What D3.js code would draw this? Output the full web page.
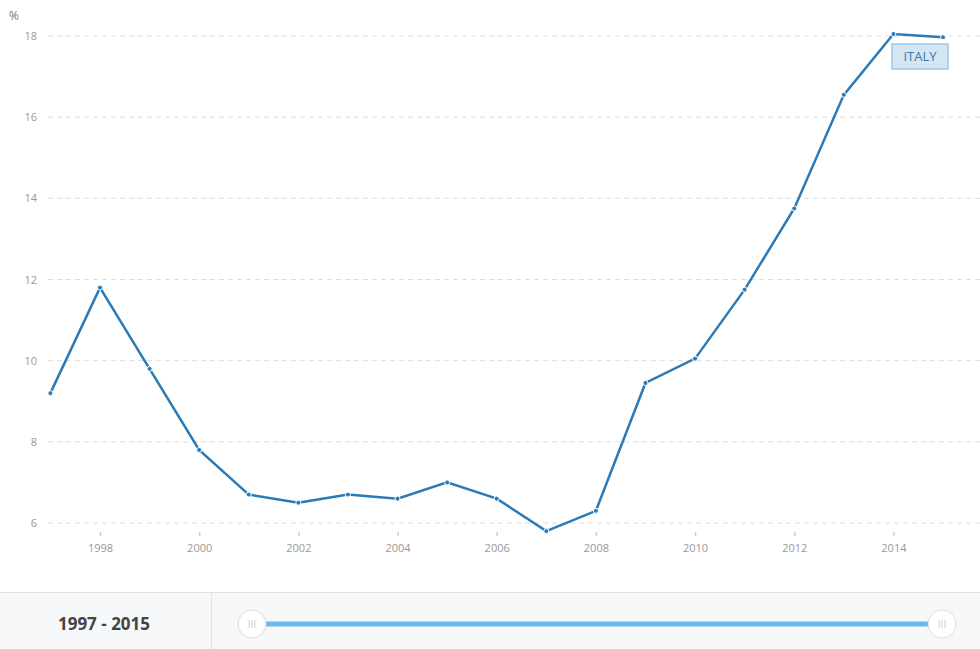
<!DOCTYPE html><html><head><meta charset="utf-8">
<script src="https://cdn.jsdelivr.net/npm/d3@7"></script>
<style>body{margin:0;background:#fff;font-family:"Open Sans",sans-serif}</style></head><body>
<svg id="c" width="980" height="649"></svg>
<script>
const years=[1997,1998,1999,2000,2001,2002,2003,2004,2005,2006,2007,2008,2009,2010,2011,2012,2013,2014,2015];
const values=[9.2,11.8,9.8,7.8,6.7,6.5,6.7,6.6,7.0,6.6,5.8,6.3,9.45,10.05,11.75,13.75,16.55,18.05,17.97];
const yTicks=[6,8,10,12,14,16,18];
const xTicks=[1998,2000,2002,2004,2006,2008,2010,2012,2014];
const svg=d3.select("#c");
const x=d3.scaleLinear().domain([1997,2015]).range([50.4,943]);
const y=d3.scaleLinear().domain([6,18]).range([523,36]);
const g=svg.append("g");
yTicks.forEach(t=>{
 g.append("line").attr("x1",48).attr("x2",980).attr("y1",y(t)).attr("y2",y(t)).attr("stroke","#ddd").attr("stroke-dasharray","5,4");
 g.append("text").attr("x",37).attr("y",y(t)+4).attr("text-anchor","end").attr("font-size",11).attr("fill","#999").text(t);
});
svg.append("text").attr("x",9).attr("y",20).attr("font-size",12).attr("fill","#777").text("%");
const xa=svg.append("g").attr("transform","translate(0,532)").call(d3.axisBottom(x).tickValues(xTicks).tickFormat(d3.format("d")).tickSize(4).tickPadding(8));
xa.select(".domain").remove();
xa.selectAll("line").attr("stroke","#ccc").attr("stroke-width",1.5);
xa.selectAll("text").attr("font-size",11).attr("fill","#999").attr("font-family","Open Sans");
svg.append("path").datum(values).attr("fill","none").attr("stroke","#2a7ab8").attr("stroke-width",2.5)
 .attr("d",d3.line().x((d,i)=>x(years[i])).y(d=>y(d)));
svg.selectAll("circle.p").data(values).enter().append("circle").attr("cx",(d,i)=>x(years[i])).attr("cy",d=>y(d)).attr("r",2.5).attr("fill","#2a7ab8").attr("stroke","#fff").attr("stroke-width",1);
svg.append("rect").attr("x",892).attr("y",44).attr("width",56).attr("height",25).attr("fill","#d5e6f2").attr("stroke","#8fbcdb").attr("stroke-width",1.2);
svg.append("text").attr("x",920).attr("y",61).attr("text-anchor","middle").attr("font-size",13).attr("fill","#3a78b0").text("ITALY");
// bottom panel
svg.append("rect").attr("x",0).attr("y",592).attr("width",980).attr("height",57).attr("fill","#f7f8fa");
svg.append("line").attr("x1",0).attr("x2",980).attr("y1",592.5).attr("y2",592.5).attr("stroke","#e3e3e3");
svg.append("line").attr("x1",211.5).attr("x2",211.5).attr("y1",592).attr("y2",649).attr("stroke","#e3e3e3");
svg.append("text").attr("x",104).attr("y",630).attr("text-anchor","middle").attr("font-size",17).attr("font-weight","bold").attr("fill","#444").text("1997 - 2015");
svg.append("line").attr("x1",252).attr("x2",942).attr("y1",624).attr("y2",624).attr("stroke","#66bbea").attr("stroke-width",5);
[252,942].forEach(cx=>{
 svg.append("circle").attr("cx",cx).attr("cy",624).attr("r",14).attr("fill","#fff").attr("stroke","#ddd");
 svg.append("text").attr("x",cx).attr("y",628).attr("text-anchor","middle").attr("font-size",10).attr("fill","#ccc").text("III");
});
</script></body></html>
